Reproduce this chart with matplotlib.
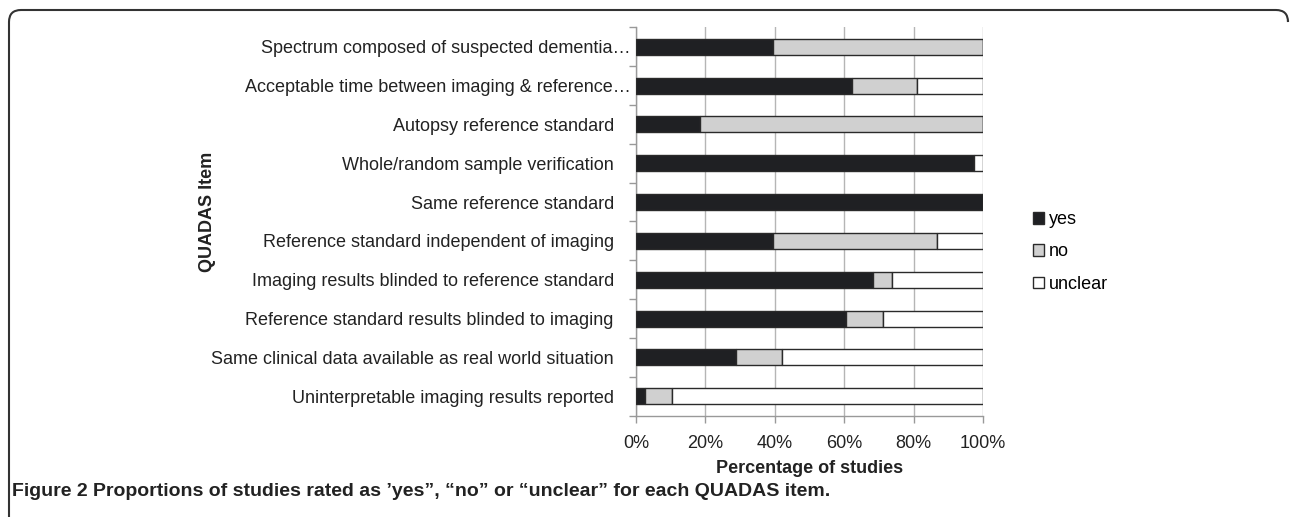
import numpy as np
import matplotlib.pyplot as plt
import matplotlib.transforms as mtransforms
from matplotlib.path import Path
from matplotlib.patches import PathPatch

plt.rcParams['font.family'] = ['Liberation Sans', 'DejaVu Sans']

items = [
    "Spectrum composed of suspected dementia\u2026",
    "Acceptable time between imaging & reference\u2026",
    "Autopsy reference standard",
    "Whole/random sample verification",
    "Same reference standard",
    "Reference standard independent of imaging",
    "Imaging results blinded to reference standard",
    "Reference standard results blinded to imaging",
    "Same clinical data available as real world situation",
    "Uninterpretable imaging results reported",
]
yes = [39.5, 62.3, 18.4, 97.4, 100.0, 39.5, 68.4, 60.5, 28.9, 2.6]
no = [60.5, 18.8, 81.6, 0.0, 0.0, 47.3, 5.3, 10.6, 13.2, 7.9]
unclear = [0.0, 18.9, 0.0, 2.6, 0.0, 13.2, 26.3, 28.9, 57.9, 89.5]

fs = 13
fig = plt.figure(figsize=(12.92, 5.17), dpi=100)
ax = fig.add_axes([636 / 1292, 1 - 415.7 / 517, 347 / 1292, (415.7 - 27.3) / 517])

y = np.arange(len(items))
yes = np.array(yes)
no = np.array(no)
unclear = np.array(unclear)
h = 0.41
ec = '#2a2a2a'
b1 = ax.barh(y, yes, height=h, color='#1f2023', edgecolor=ec, linewidth=1, label='yes', zorder=3)
b2 = ax.barh(y, no, left=yes, height=h, color='#d0d0d0', edgecolor=ec, linewidth=1, label='no', zorder=3)
b3 = ax.barh(y, unclear, left=yes + no, height=h, color='white', edgecolor=ec, linewidth=1, label='unclear', zorder=3)

ax.set_xlim(0, 100)
ax.set_ylim(len(items) - 0.5, -0.5)
ax.set_yticks(y)
ax.set_yticklabels(items, fontsize=fs, color='#222222')
ax.set_yticks(np.arange(-0.5, len(items)), minor=True)
ax.tick_params(axis='y', which='major', length=0, pad=16)
ax.tick_params(axis='y', which='minor', length=5, color='#999999', width=1)
# truncated labels overflow to the right (ellipsis)
for lab in ax.get_yticklabels():
    if lab.get_text().endswith('\u2026'):
        lab.set_transform(lab.get_transform() + mtransforms.ScaledTranslation(17 / 100, 0, fig.dpi_scale_trans))
ax.set_xticks(np.arange(0, 101, 20))
ax.set_xticklabels([f"{v}%" for v in range(0, 101, 20)], fontsize=fs, color='#222222')
ax.tick_params(axis='x', length=5, color='#999999', width=1, pad=9)
ax.grid(axis='x', color='#b5b5b5', linewidth=1, zorder=0)
ax.set_axisbelow(True)
for s in ['top', 'right']:
    ax.spines[s].set_visible(False)
for s in ['left', 'bottom']:
    ax.spines[s].set_color('#999999')
    ax.spines[s].set_linewidth(1)

ax.set_xlabel("Percentage of studies", fontsize=fs, fontweight='bold', color='#222222', labelpad=6)
fig.text(207 / 1292, 1 - 212 / 517, "QUADAS Item", rotation=90, fontsize=fs,
         fontweight='bold', color='#222222', ha='center', va='center')

leg = fig.legend(handles=[b1, b2, b3], labels=['yes', 'no', 'unclear'],
                 loc='center left', bbox_to_anchor=(1017 / 1292, 1 - 252 / 517),
                 frameon=False, fontsize=fs, handlelength=0.62, handleheight=0.62,
                 handletextpad=0.25, labelspacing=0.85)

# border with rounded top corners
r = 12
W, H = 1292, 517
verts = [(9, 517), (9, 10 + r), (9, 10), (9 + r, 10), (1288 - r, 10), (1288, 10), (1288, 10 + r), (1288, 20)]
codes = [Path.MOVETO, Path.LINETO, Path.CURVE3, Path.CURVE3, Path.LINETO, Path.CURVE3, Path.CURVE3, Path.LINETO]
verts = [(vx / W, 1 - vy / H) for vx, vy in verts]
fig.patches.append(PathPatch(Path(verts, codes), transform=fig.transFigure, fill=False,
                             edgecolor='#333333', linewidth=1.5))

t1 = fig.text(12 / 1292, 1 - 492 / 517, "Figure 2", fontsize=14, fontweight='bold',
              color='#222222', va='center', ha='left')
fig.canvas.draw()
bb = t1.get_window_extent()
fig.text((bb.x1 + 5) / 1292, 1 - 492 / 517,
         "Proportions of studies rated as \u2019yes\u201d, \u201cno\u201d or \u201cunclear\u201d for each QUADAS item.",
         fontsize=14, fontweight='bold', color='#222222', va='center', ha='left')

fig.savefig('out.png', dpi=100)
